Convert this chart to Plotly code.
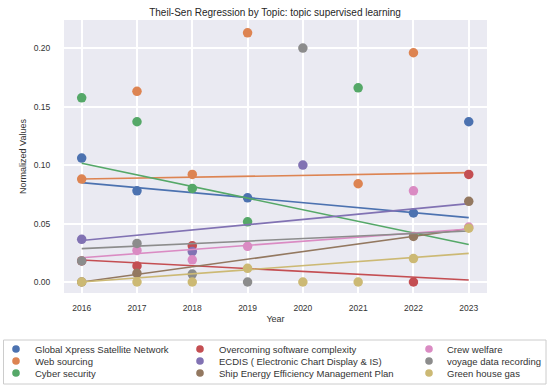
import plotly.graph_objects as go

years = [2016, 2017, 2018, 2019, 2020, 2021, 2022, 2023]

topics = [
    "Global Xpress Satellite Network",
    "Web sourcing",
    "Cyber security",
    "Overcoming software complexity",
    "ECDIS ( Electronic Chart Display & IS)",
    "Ship Energy Efficiency Management Plan",
    "Crew welfare",
    "voyage data recording",
    "Green house gas",
]

global_xpress = [0.106, 0.078, None, 0.072, None, None, 0.059, 0.137]
web_sourcing = [0.088, 0.163, 0.092, 0.213, None, 0.084, 0.196, None]
cyber_security = [0.1575, 0.137, 0.080, 0.0515, None, 0.166, None, None]
software_complexity = [0.018, 0.0137, 0.031, None, None, None, 0.0, 0.092]
ecdis = [0.0365, None, 0.026, None, 0.100, None, None, None]
ship_energy = [0.0, 0.0074, None, None, None, None, 0.039, 0.069]
crew_welfare = [None, 0.027, 0.019, 0.0305, None, None, 0.078, 0.047]
voyage_data = [0.018, 0.033, 0.0068, 0.0, 0.200, None, None, None]
green_house = [0.0, 0.0, 0.0, 0.0117, 0.0, 0.0, 0.020, 0.046]

series = [global_xpress, web_sourcing, cyber_security, software_complexity,
          ecdis, ship_energy, crew_welfare, voyage_data, green_house]

# Theil-Sen fitted values at first and last year
trend_start = [0.085, 0.088, 0.1015, 0.0188, 0.0355, 0.0, 0.0208, 0.0285, 0.0]
trend_end = [0.055, 0.0935, 0.032, 0.0017, 0.067, 0.0455, 0.0453, 0.0436, 0.0245]

colors = ["#4C72B0", "#DD8452", "#55A868", "#C44E52", "#8172B3",
          "#937860", "#DA8BC3", "#8C8C8C", "#CCB974"]

W, H = 550, 386
L, R, T, B = 64, 63, 20, 93
pw, ph = W - L - R, H - T - B

fig = go.Figure()
for name, vals, c, s, e in zip(topics, series, colors, trend_start, trend_end):
    xs = [y for y, v in zip(years, vals) if v is not None]
    ys = [v for v in vals if v is not None]
    fig.add_trace(go.Scatter(x=xs, y=ys, mode="markers", name=name,
                             marker=dict(color=c, size=9.5, line=dict(width=0)),
                             showlegend=False))
    fig.add_trace(go.Scatter(x=[years[0], years[-1]], y=[s, e], mode="lines",
                             line=dict(color=c, width=1.6), showlegend=False))

# manual legend (3 columns, column-major)
def px_to_paper_x(px):
    return (px - L) / pw

def px_to_paper_y(py):
    return (H - B - py) / ph

shapes = [dict(type="rect", xref="paper", yref="paper",
               x0=px_to_paper_x(3.5), x1=px_to_paper_x(546),
               y0=px_to_paper_y(340), y1=px_to_paper_y(384),
               line=dict(color="#cccccc", width=1), fillcolor="white", layer="above")]
annotations = []
col_marker_x = [16, 200, 429]
col_text_x = [33, 217, 445]
row_y = [349, 361, 373]
for i, (name, c) in enumerate(zip(topics, colors)):
    col, row = i // 3, i % 3
    shapes.append(dict(type="circle", xref="paper", yref="paper",
                       xsizemode="pixel", ysizemode="pixel",
                       xanchor=px_to_paper_x(col_marker_x[col]),
                       yanchor=px_to_paper_y(row_y[row]),
                       x0=-3.8, x1=3.8, y0=-3.8, y1=3.8,
                       fillcolor=c, line=dict(width=0), layer="above"))
    annotations.append(dict(xref="paper", yref="paper",
                            x=px_to_paper_x(col_text_x[col]),
                            y=px_to_paper_y(row_y[row]),
                            xanchor="left", yanchor="middle", showarrow=False,
                            text=name, font=dict(size=9.5, color="#333333")))

fig.update_layout(
    width=W, height=H,
    margin=dict(l=L, r=R, t=T, b=B),
    paper_bgcolor="white",
    plot_bgcolor="#EAEAF2",
    font=dict(family="Liberation Sans, Arial, sans-serif", color="#333333"),
    title=dict(text="Theil-Sen Regression by Topic: topic supervised learning",
               x=0.5, xanchor="center", y=1 - 12 / H, yanchor="middle",
               font=dict(size=10, color="#262626")),
    shapes=shapes,
    annotations=annotations,
    showlegend=False,
)
fig.update_xaxes(range=[2015.68, 2023.33], tickvals=years,
                 ticktext=[str(y) for y in years],
                 showgrid=True, gridcolor="white", gridwidth=1.5, zeroline=False,
                 ticks="outside", ticklen=7, tickcolor="rgba(0,0,0,0)",
                 tickfont=dict(size=8.5, color="#333333"),
                 title=dict(text="Year", font=dict(size=9, color="#333333"), standoff=3))
fig.update_yaxes(range=[-0.0094, 0.224], tickvals=[0.0, 0.05, 0.10, 0.15, 0.20],
                 tickformat=".2f",
                 showgrid=True, gridcolor="white", gridwidth=1.5, zeroline=False,
                 ticks="outside", ticklen=11, tickcolor="rgba(0,0,0,0)",
                 tickfont=dict(size=8.5, color="#333333"),
                 title=dict(text="Normalized Values", font=dict(size=9, color="#333333"), standoff=5))

fig.write_html("out.html", config={"displayModeBar": False},
               post_script="document.body.style.margin='0';document.body.style.padding='0';")
